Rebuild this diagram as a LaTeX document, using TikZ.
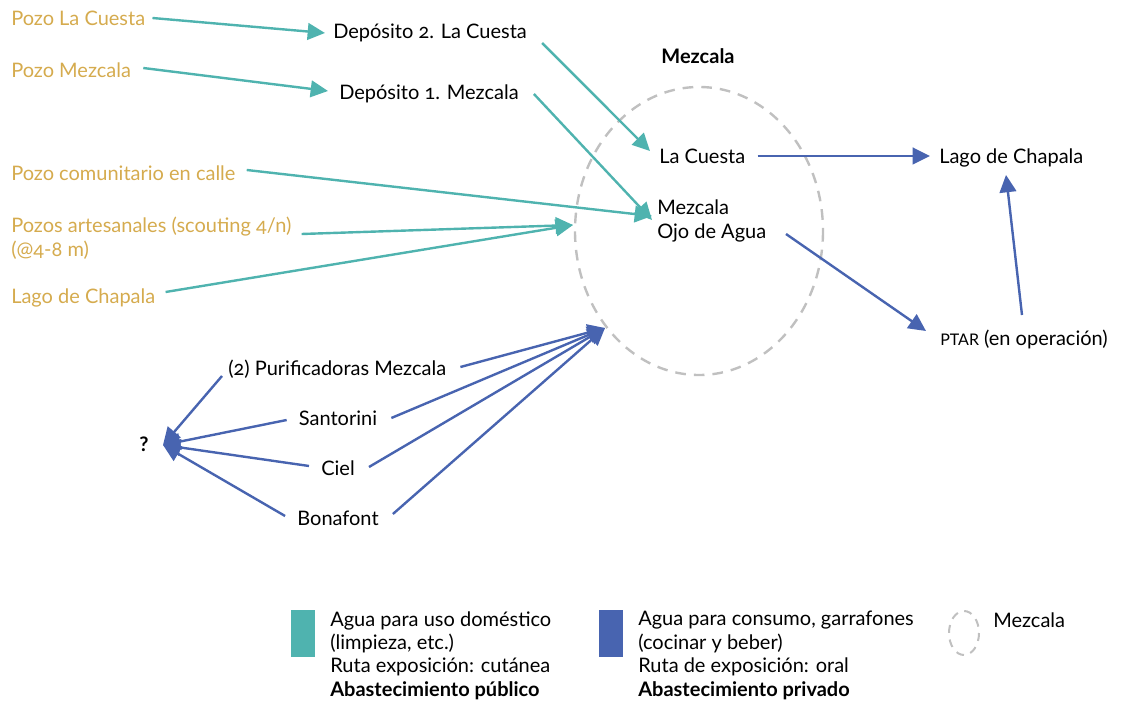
\documentclass[tikz,border=0pt]{standalone}
\usepackage{fontspec}
\setmainfont{Lato}[Numbers=OldStyle]
\usetikzlibrary{arrows.meta,calc}
\definecolor{tealc}{HTML}{4FB3AF}
\definecolor{bluec}{HTML}{4864B0}
\definecolor{goldc}{HTML}{D5AB4E}
\definecolor{grayc}{HTML}{C0C0C0}
\begin{document}
\begin{tikzpicture}[x=0.75pt,y=-0.75pt,
  lbl/.style={anchor=west,inner sep=0pt,font=\fontsize{15}{18}\selectfont,text height=14pt,text depth=2pt},
  src/.style={lbl,text=goldc},
  multi/.style={anchor=north west,inner sep=0pt,align=left,font=\fontsize{15}{18}\selectfont},
  tar/.style={draw=tealc,line width=1.8pt,-{Triangle[length=13pt,width=12.5pt]}},
  bar/.style={draw=bluec,line width=1.8pt,-{Triangle[length=13pt,width=12.5pt]}},
  zone/.style={draw=grayc,line width=1.8pt,dash pattern=on 8pt off 6pt}
]
\useasboundingbox (0,0) rectangle (1121,702);

% zone
\node[draw=none,inner sep=0pt] (zonec) at (699,231) {};
\draw[zone] (zonec) ellipse [x radius=124, y radius=144];
\node[lbl,anchor=center,font=\fontsize{15}{18}\selectfont\bfseries] (ztitle) at (698,56) {Mezcala};

% sources
\node[src] (plc) at (11,18) {Pozo La Cuesta};
\node[src] (pm) at (11,70) {Pozo Mezcala};
\node[src] (pcc) at (11,173) {Pozo comunitario en calle};
\node[multi,text=goldc] (pa) at (11,217) {Pozos artesanales (scouting 4/n)\\(@4-8 m)};
\node[src] (lcs) at (11,296) {Lago de Chapala};

% deposits
\node[lbl] (dep2) at (333,31) {Depósito 2. La Cuesta};
\node[lbl] (dep1) at (339,92) {Depósito 1. Mezcala};

% inside zone
\node[lbl] (lcu) at (659,156) {La Cuesta};
\node[multi] (mez) at (657,200) {Mezcala\\Ojo de Agua};

% right
\node[lbl] (lago) at (939,156) {Lago de Chapala};
\node[lbl] (ptar) at (940,337) {{\fontsize{12}{14}\selectfont PTAR} (en operación)};

% private
\node[lbl] (pur) at (228,367) {(2) Purificadoras Mezcala};
\node[lbl,anchor=center] (san) at (338,417) {Santorini};
\node[lbl,anchor=center] (ciel) at (338,467) {Ciel};
\node[lbl,anchor=center] (bona) at (338,517) {Bonafont};
\node[lbl,anchor=center,font=\fontsize{15}{18}\selectfont\bfseries] (q) at (144,443) {?};

% hubs
\coordinate (hubT) at (573,225);
\coordinate (hubB) at (605,328);
\coordinate (hubQ) at (163,445);

% teal connectors
\draw[tar] ($(plc.east)+(7,0)$) -- ($(dep2.west)+(-8,2)$);
\draw[tar] ($(pm.east)+(12,-2)$) -- ($(dep1.west)+(-11,-1)$);
\draw[tar] ($(dep2.east)+(15,12)$) -- ($(lcu.west)+(-9,-5)$);
\draw[tar] ($(dep1.east)+(15,2)$) -- ($(mez.north west)+(-5,20)$);
\draw[tar] ($(pcc.east)+(11,-3)$) -- ($(mez.north west)+(-5,16)$);
\draw[tar] ($(pa.north east)+(10,17)$) -- (hubT);
\draw[tar] ($(lcs.east)+(10,-4)$) -- (hubT);

% blue connectors
\draw[bar] ($(lcu.east)+(12,0)$) -- ($(lago.west)+(-9,0)$);
\draw[bar] ($(mez.north west)+(129,34)$) -- ($(ptar.west)+(-14,-6)$);
\draw[bar] ($(ptar.west)+(82,-22)$) -- ($(lago.south west)+(67,8)$);
\draw[bar] ($(pur.east)+(14,0)$) -- (hubB);
\draw[bar] ($(san.east)+(14,1)$) -- (hubB);
\draw[bar] ($(ciel.east)+(14,0)$) -- (hubB);
\draw[bar] ($(bona.east)+(14,-3)$) -- (hubB);
\draw[bar] ($(pur.west)+(-6,9)$) -- (hubQ);
\draw[bar] ($(san.west)+(-12,3)$) -- (hubQ);
\draw[bar] ($(ciel.west)+(-12,-1)$) -- (hubQ);
\draw[bar] ($(bona.west)+(-12,-1)$) -- (hubQ);

% legend
\node[fill=tealc,inner sep=0pt,minimum width=18pt,minimum height=35.25pt,anchor=north west] (legT) at (291,610) {};
\node[multi,anchor=north west,font=\fontsize{15}{17.6}\selectfont] (legTt) at (330,611) {Agua para uso doméstico\\(limpieza, etc.)\\Ruta exposición: cutánea\\\textbf{Abastecimiento público}};
\node[fill=bluec,inner sep=0pt,minimum width=18pt,minimum height=35.25pt,anchor=north west] (legB) at (599,610) {};
\node[multi,anchor=north west,font=\fontsize{15}{17.6}\selectfont] (legBt) at (638,611) {Agua para consumo, garrafones\\(cocinar y beber)\\Ruta de exposición: oral\\\textbf{Abastecimiento privado}};
\node[inner sep=0pt] (legZc) at (964,633) {};
\draw[draw=grayc,line width=1.5pt,dash pattern=on 6pt off 5pt] (legZc) ellipse [x radius=15, y radius=22];
\node[lbl] (legZt) at (993,619) {Mezcala};
\end{tikzpicture}
\end{document}
